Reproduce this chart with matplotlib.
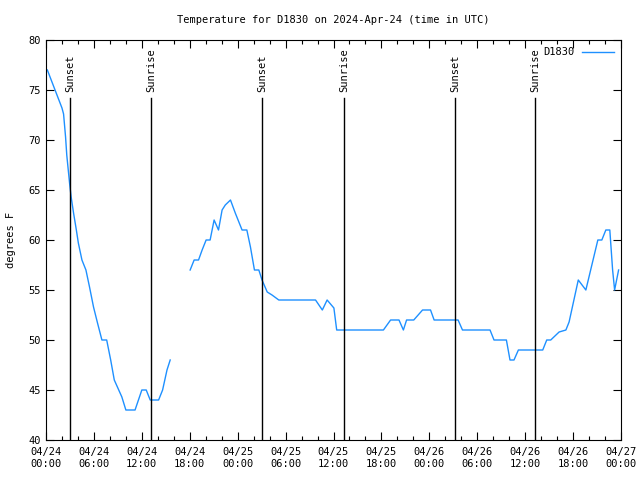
import numpy as np
import pandas as pd
import matplotlib
matplotlib.use("Agg")
import matplotlib.pyplot as plt
import matplotlib.dates as mdates

# hours after 2024-04-24 00:00 UTC, temperature in F (nan = gap in the record)
hours = [0.17, 2.0, 2.2, 2.45, 2.6, 2.95, 3.15, 3.45, 3.8, 4.05, 4.5, 5.0, 5.45,
         5.95, 6.45, 7.0, 7.6, 8.1, 8.55, 9.5, 10.0, 11.15, 12.0, 12.55, 13.05,
         14.1, 14.6, 15.15, 15.55,
         16.8,
         18.05, 18.55, 19.1, 19.55, 20.05, 20.55, 21.05, 21.6, 22.05, 22.45,
         23.1, 23.7, 24.55, 25.15, 25.6, 26.1, 26.65, 27.05, 27.7, 28.3, 29.15,
         33.75, 34.6, 35.2, 36.05, 36.4, 42.25, 43.15, 44.2, 44.75, 45.15, 46.05,
         47.15, 48.15, 48.6, 51.6, 52.15, 55.6, 56.1, 57.65, 58.1, 58.6, 59.15,
         62.2, 62.7, 63.2, 64.25, 65.1, 65.5, 66.65, 67.6, 69.1, 69.6, 70.1,
         70.6, 70.95, 71.2, 71.7]
temps = [77, 73.2, 72.6, 70.3, 68.5, 65.7, 64.3, 62.7, 61, 59.7, 58, 57, 55.3,
         53.3, 51.7, 50, 50, 48, 46, 44.3, 43, 43, 45, 45, 44,
         44, 45, 47, 48,
         np.nan,
         57, 58, 58, 59, 60, 60, 62, 61, 63, 63.5,
         64, 62.7, 61, 61, 59.3, 57, 57, 56, 54.8, 54.5, 54,
         54, 53, 54, 53.2, 51, 51, 52, 52, 51, 52, 52,
         53, 53, 52, 52, 51, 51, 50, 50, 48, 48, 49,
         49, 50, 50, 50.8, 51, 51.8, 56, 55, 60, 60, 61,
         61, 57, 55, 57]

event_hours = [3.05, 13.17, 27.1, 37.3, 51.2, 61.25]
event_names = ["Sunset", "Sunrise", "Sunset", "Sunrise", "Sunset", "Sunrise"]

start = pd.Timestamp("2024-04-24 00:00")
times = [start + pd.Timedelta(hours=h) for h in hours]

plt.rcParams["font.family"] = "DejaVu Sans Mono"
plt.rcParams["font.size"] = 7.5

fig = plt.figure(figsize=(6.4, 4.8), dpi=100)
ax = fig.add_axes([46 / 640, 40 / 480, 575 / 640, 400 / 480])

ax.plot(times, temps, color="#1e90ff", lw=1, label="D1830")

for h, name in zip(event_hours, event_names):
    t = start + pd.Timedelta(hours=h)
    ax.plot([t, t], [40, 74.2], color="black", lw=1)
    ax.text(t, 74.8, name, rotation=90, ha="center", va="bottom", fontsize=7.5)

ax.set_xlim(start, start + pd.Timedelta(hours=72))
ax.set_ylim(40, 80)
ax.xaxis.set_major_locator(mdates.HourLocator(byhour=[0, 6, 12, 18]))
ax.xaxis.set_minor_locator(mdates.HourLocator(interval=2))
ax.xaxis.set_major_formatter(mdates.DateFormatter("%m/%d\n%H:%M"))
ax.set_yticks(range(40, 81, 5))
ax.tick_params(which="both", direction="in", top=True, right=True)
ax.tick_params(which="major", length=6, width=0.8)
ax.tick_params(which="minor", length=3, width=0.8)
ax.tick_params(axis="x", pad=5)

ax.set_ylabel("degrees F", labelpad=9)
ax.set_title("Temperature for D1830 on 2024-Apr-24 (time in UTC)", fontsize=7.5, pad=12)

leg = ax.legend(loc="upper right", frameon=False, markerfirst=False,
                handlelength=3, borderaxespad=0.3)

fig.savefig("out.png", dpi=100)
